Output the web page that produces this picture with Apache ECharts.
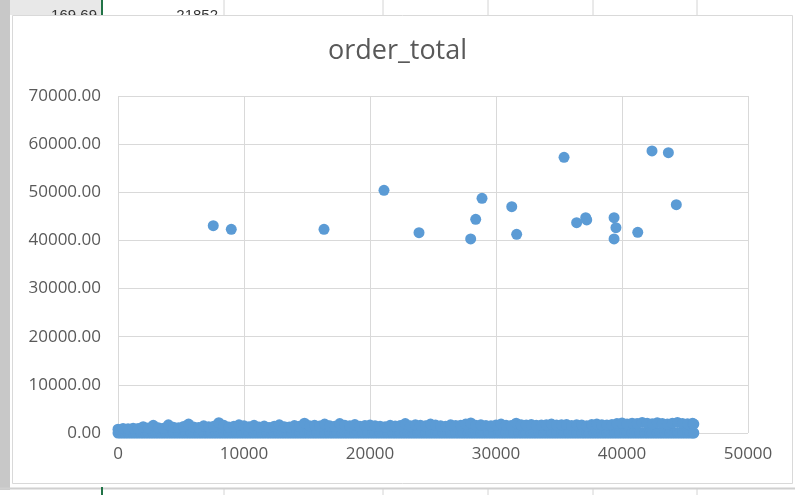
<!DOCTYPE html>
<html>
<head>
<meta charset="utf-8">
<script src="https://cdn.jsdelivr.net/npm/echarts@6/dist/echarts.min.js"></script>
<style>
html,body{margin:0;padding:0;background:#fff;}
#c{width:795px;height:495px;}
</style>
</head>
<body>
<div id="c"></div>
<script>
// ---- data ----
var chartTitle = 'order_total';
var xTicks = [0, 10000, 20000, 30000, 40000, 50000];
var yTicks = [0, 10000, 20000, 30000, 40000, 50000, 60000, 70000];

// large outlier orders
var outX = [7560, 8990, 16350, 21110, 23890, 27990, 28390, 28890, 31250, 31640, 35400, 36400, 37120, 37200, 39370, 39520, 39370, 41250, 42380, 43680, 44310];
var outY = [43060, 42310, 42310, 50400, 41610, 40300, 44390, 48750, 47010, 41280, 57270, 43690, 44720, 44250, 44720, 42650, 40300, 41690, 58580, 58230, 47420];

// dense band of ordinary orders: upper edge sampled along the band
var bandX = [0, 400, 800, 1200, 1600, 2000, 2400, 2800, 3200, 3600,
  4000, 4400, 4800, 5200, 5600, 6000, 6400, 6800, 7200, 7600,
  8000, 8400, 8800, 9200, 9600, 10000, 10400, 10800, 11200, 11600,
  12000, 12400, 12800, 13200, 13600, 14000, 14400, 14800, 15200, 15600,
  16000, 16400, 16800, 17200, 17600, 18000, 18400, 18800, 19200, 19600,
  20000, 20400, 20800, 21200, 21600, 22000, 22400, 22800, 23200, 23600,
  24000, 24400, 24800, 25200, 25600, 26000, 26400, 26800, 27200, 27600,
  28000, 28400, 28800, 29200, 29600, 30000, 30400, 30800, 31200, 31600,
  32000, 32400, 32800, 33200, 33600, 34000, 34400, 34800, 35200, 35600,
  36000, 36400, 36800, 37200, 37600, 38000, 38400, 38800, 39200, 39600,
  40000, 40400, 40800, 41200, 41600, 42000, 42400, 42800, 43200, 43600,
  44000, 44400, 44800, 45200, 45600, 45700];
var bandTop = [800, 950, 900, 1000, 950, 1300, 1050, 1600, 1100, 1000,
  1700, 1200, 1100, 1350, 1850, 1250, 1150, 1500, 1300, 1400,
  2150, 1600, 1250, 1400, 1700, 1500, 1300, 1600, 1250, 1450,
  1150, 1400, 1700, 1300, 1250, 1550, 1400, 2050, 1500, 1600,
  1450, 1850, 1500, 1400, 1950, 1600, 1500, 1750, 1400, 1550,
  1650, 1500, 1400, 1300, 1600, 1450, 1550, 1950, 1500, 1700,
  1600, 1500, 1850, 1650, 1500, 1400, 1700, 1550, 1600, 1850,
  2100, 1600, 1700, 1550, 1500, 1650, 1850, 1600, 1550, 2050,
  1700, 1650, 1750, 1600, 1650, 1700, 1850, 1650, 1700, 1750,
  1550, 1700, 1650, 1500, 1750, 1850, 1700, 1650, 1750, 1950,
  2100, 1850, 2050, 1950, 2200, 2000, 1900, 2150, 1950, 1850,
  2050, 2200, 1950, 1900, 2000, 1850];
// lower edge of the band (orders near zero)
var bandLowX = [0, 200, 400, 600, 800, 1000, 1200, 1400, 1600, 1800,
  2000, 2200, 2400, 2600, 2800, 3000, 3200, 3400, 3600, 3800,
  4000, 4200, 4400, 4600, 4800, 5000, 5200, 5400, 5600, 5800,
  6000, 6200, 6400, 6600, 6800, 7000, 7200, 7400, 7600, 7800,
  8000, 8200, 8400, 8600, 8800, 9000, 9200, 9400, 9600, 9800,
  10000, 10200, 10400, 10600, 10800, 11000, 11200, 11400, 11600, 11800,
  12000, 12200, 12400, 12600, 12800, 13000, 13200, 13400, 13600, 13800,
  14000, 14200, 14400, 14600, 14800, 15000, 15200, 15400, 15600, 15800,
  16000, 16200, 16400, 16600, 16800, 17000, 17200, 17400, 17600, 17800,
  18000, 18200, 18400, 18600, 18800, 19000, 19200, 19400, 19600, 19800,
  20000, 20200, 20400, 20600, 20800, 21000, 21200, 21400, 21600, 21800,
  22000, 22200, 22400, 22600, 22800, 23000, 23200, 23400, 23600, 23800,
  24000, 24200, 24400, 24600, 24800, 25000, 25200, 25400, 25600, 25800,
  26000, 26200, 26400, 26600, 26800, 27000, 27200, 27400, 27600, 27800,
  28000, 28200, 28400, 28600, 28800, 29000, 29200, 29400, 29600, 29800,
  30000, 30200, 30400, 30600, 30800, 31000, 31200, 31400, 31600, 31800,
  32000, 32200, 32400, 32600, 32800, 33000, 33200, 33400, 33600, 33800,
  34000, 34200, 34400, 34600, 34800, 35000, 35200, 35400, 35600, 35800,
  36000, 36200, 36400, 36600, 36800, 37000, 37200, 37400, 37600, 37800,
  38000, 38200, 38400, 38600, 38800, 39000, 39200, 39400, 39600, 39800,
  40000, 40200, 40400, 40600, 40800, 41000, 41200, 41400, 41600, 41800,
  42000, 42200, 42400, 42600, 42800, 43000, 43200, 43400, 43600, 43800,
  44000, 44200, 44400, 44600, 44800, 45000, 45200, 45400, 45600, 45700];
var bandLowY = [0, 0, 0, 0, 0, 0, 0, 0, 0, 0, 0, 0, 0, 0, 0, 0, 0, 0, 0, 0,
  0, 0, 0, 0, 0, 0, 0, 0, 0, 0, 0, 0, 0, 0, 0, 0, 0, 0, 0, 0,
  0, 0, 0, 0, 0, 0, 0, 0, 0, 0, 0, 0, 0, 0, 0, 0, 0, 0, 0, 0,
  0, 0, 0, 0, 0, 0, 0, 0, 0, 0, 0, 0, 0, 0, 0, 0, 0, 0, 0, 0,
  0, 0, 0, 0, 0, 0, 0, 0, 0, 0, 0, 0, 0, 0, 0, 0, 0, 0, 0, 0,
  0, 0, 0, 0, 0, 0, 0, 0, 0, 0, 0, 0, 0, 0, 0, 0, 0, 0, 0, 0,
  0, 0, 0, 0, 0, 0, 0, 0, 0, 0, 0, 0, 0, 0, 0, 0, 0, 0, 0, 0,
  0, 0, 0, 0, 0, 0, 0, 0, 0, 0, 0, 0, 0, 0, 0, 0, 0, 0, 0, 0,
  0, 0, 0, 0, 0, 0, 0, 0, 0, 0, 0, 0, 0, 0, 0, 0, 0, 0, 0, 0,
  0, 0, 0, 0, 0, 0, 0, 0, 0, 0, 0, 0, 0, 0, 0, 0, 0, 0, 0, 0,
  0, 0, 0, 0, 0, 0, 0, 0, 0, 0, 0, 0, 0, 0, 0, 0, 0, 0, 0, 0,
  0, 0, 0, 0, 0, 0, 0, 0, 0, 0, 0, 0, 0, 0, 0, 0, 0, 0, 0, 0];

// background spreadsheet cell texts
var cellTexts = ['169.69', '21852'];

// ---- build ----
var pts = [];
for (var k = 0; k < bandLowX.length; k++) pts.push([bandLowX[k], bandLowY[k]]);
for (var i = 0; i < bandX.length; i++) pts.push([bandX[i], bandTop[i]]);
for (var j = 0; j < outX.length; j++) pts.push([outX[j], outY[j]]);

var FONT = 'Open Sans';
var TXT = '#595959';
var GRID = '#d9d9d9';
var colLines = [224, 383, 488, 593, 697];

var graphics = [];
graphics.push({type:'rect', z:-20, shape:{x:0,y:0,width:10,height:490}, style:{fill:'#c8c8c8'}});
graphics.push({type:'rect', z:-20, shape:{x:10,y:0,width:92,height:15}, style:{fill:'#e8e8e8'}});
colLines.forEach(function (cx) {
  graphics.push({type:'line', z:-20, shape:{x1:cx,y1:0,x2:cx,y2:15}, style:{stroke:'#d4d4d4',lineWidth:1}});
  graphics.push({type:'line', z:-20, shape:{x1:cx,y1:488,x2:cx,y2:495}, style:{stroke:'#d4d4d4',lineWidth:1}});
});
graphics.push({type:'line', z:-20, shape:{x1:0,y1:488.5,x2:795,y2:488.5}, style:{stroke:'#d0d0d0',lineWidth:2}});
graphics.push({type:'rect', z:-20, shape:{x:101,y:0,width:2,height:15}, style:{fill:'#217346'}});
graphics.push({type:'rect', z:-20, shape:{x:101,y:487,width:2,height:8}, style:{fill:'#217346'}});
graphics.push({type:'text', z:-19, x:97, y:16, style:{text:cellTexts[0], fill:'#333', font:'15px "Liberation Sans"', textAlign:'right', textVerticalAlign:'middle'}});
graphics.push({type:'text', z:-19, x:218, y:16, style:{text:cellTexts[1], fill:'#333', font:'15px "Liberation Sans"', textAlign:'right', textVerticalAlign:'middle'}});
graphics.push({type:'rect', z:-10, shape:{x:12.5,y:15.5,width:780,height:468}, style:{fill:'#fff', stroke:'#d9d9d9', lineWidth:1}});

var chart = echarts.init(document.getElementById('c'));
chart.setOption({
  animation: false,
  backgroundColor: '#fff',
  graphic: graphics,
  title: {
    text: chartTitle, left: 'center', top: 33,
    textStyle: {fontFamily: FONT, fontSize: 27, fontWeight: 'normal', color: TXT}
  },
  grid: {left: 118, right: 47, top: 96, bottom: 62, containLabel: false},
  xAxis: {
    type: 'value', min: xTicks[0], max: xTicks[xTicks.length - 1], interval: xTicks[1] - xTicks[0],
    axisLine: {show: false}, axisTick: {show: false},
    splitLine: {show: true, lineStyle: {color: GRID, width: 1}},
    axisLabel: {color: TXT, fontFamily: FONT, fontSize: 17, margin: 13,
      formatter: function (v) { return String(v); }}
  },
  yAxis: {
    type: 'value', min: yTicks[0], max: yTicks[yTicks.length - 1], interval: yTicks[1] - yTicks[0],
    axisLine: {show: false}, axisTick: {show: false},
    splitLine: {show: true, lineStyle: {color: GRID, width: 1}},
    axisLabel: {color: TXT, fontFamily: FONT, fontSize: 17, margin: 17,
      formatter: function (v) { return v.toFixed(2); }}
  },
  series: [{
    type: 'scatter', data: pts, symbol: 'circle', symbolSize: 11,
    itemStyle: {color: '#5b9bd5', opacity: 1}
  }]
});
</script>
</body>
</html>
